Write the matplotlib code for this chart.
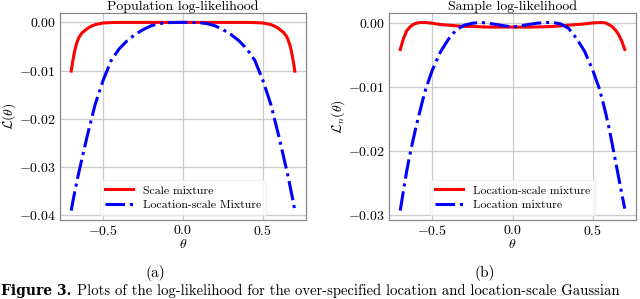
import matplotlib
matplotlib.use("Agg")
import matplotlib.pyplot as plt
import matplotlib.ticker as mticker

plt.rcParams['font.family'] = 'serif'
plt.rcParams['font.serif'] = ['cmr10', 'DejaVu Serif']
plt.rcParams['mathtext.fontset'] = 'cm'
plt.rcParams['axes.formatter.use_mathtext'] = True
plt.rcParams['axes.unicode_minus'] = True

# ---- Panel (a): population log-likelihood ----
theta_a = [-0.70, -0.69, -0.68, -0.67, -0.66, -0.65, -0.63, -0.60, -0.575, -0.55,
           -0.50, -0.45, -0.40, -0.35, -0.30, -0.25, -0.20, -0.15, -0.10, -0.05,
           0.00, 0.05, 0.10, 0.15, 0.20, 0.25, 0.30, 0.35, 0.40, 0.45,
           0.50, 0.55, 0.575, 0.60, 0.63, 0.65, 0.66, 0.67, 0.68, 0.69, 0.70]
scale_mix_a = [-0.0101, -0.0080, -0.0062, -0.0048, -0.0038, -0.0030, -0.0021, -0.0013, -0.0008, -0.00045,
               -0.00012, -0.00003, 0.0, 0.0, 0.0, 0.0, 0.0, 0.0, 0.0, 0.0,
               0.0, 0.0, 0.0, 0.0, 0.0, 0.0, 0.0, 0.0, 0.0, -0.00003,
               -0.00012, -0.00045, -0.0008, -0.0013, -0.0021, -0.0030, -0.0038, -0.0048, -0.0062, -0.0080, -0.0101]
locscale_mix_a = [-0.0390, -0.0372, -0.0355, -0.0339, -0.0323, -0.0308, -0.0279, -0.0236, -0.0203, -0.0170,
                  -0.0120, -0.0079, -0.0055, -0.0038, -0.0025, -0.0015, -0.0007, -0.00025, -0.00005, 0.0,
                  0.0, 0.0, -0.00005, -0.00025, -0.0007, -0.0015, -0.0025, -0.0038, -0.0055, -0.0079,
                  -0.0120, -0.0170, -0.0203, -0.0236, -0.0279, -0.0308, -0.0323, -0.0339, -0.0355, -0.0372, -0.0390]

# ---- Panel (b): sample log-likelihood ----
theta_b = [-0.70, -0.68, -0.66, -0.64, -0.62, -0.60, -0.58, -0.56, -0.54, -0.50,
           -0.45, -0.40, -0.35, -0.30, -0.25, -0.20, -0.15, -0.10, -0.05, 0.00,
           0.05, 0.10, 0.15, 0.20, 0.25, 0.30, 0.35, 0.40, 0.45, 0.50,
           0.54, 0.56, 0.58, 0.60, 0.62, 0.64, 0.66, 0.68, 0.70]
locscale_mix_b = [-0.0042, -0.0025, -0.0013, -0.0007, -0.0003, -0.0001, 0.0, 0.00003, 0.0, -0.0001,
                  -0.0003, -0.0004, -0.0005, -0.0006, -0.0006, -0.00065, -0.0007, -0.0007, -0.0007, -0.0007,
                  -0.0007, -0.0007, -0.00068, -0.00065, -0.0006, -0.0005, -0.0004, -0.0003, -0.0002, -0.00005,
                  0.0, 0.0, -0.00005, -0.0003, -0.0006, -0.0011, -0.0018, -0.0028, -0.0042]
loc_mix_b = [-0.0293, -0.0262, -0.0232, -0.0206, -0.0183, -0.0161, -0.0141, -0.0121, -0.0103, -0.0074,
             -0.0046, -0.0026, -0.0011, -0.0004, -0.0001, 0.00003, -0.0001, -0.0003, -0.0005, -0.0007,
             -0.0005, -0.0003, -0.0001, 0.0, 0.00003, -0.0002, -0.0009, -0.0025, -0.0045, -0.0074,
             -0.0102, -0.0120, -0.0140, -0.0162, -0.0187, -0.0213, -0.0239, -0.0265, -0.0290]

W, H = 640, 299
fig = plt.figure(figsize=(W / 100, H / 100), dpi=100)

ax1 = fig.add_axes([60 / W, (H - 220) / H, 246 / W, 207 / H])
ax2 = fig.add_axes([389 / W, (H - 220) / H, 247 / W, 207 / H])

lw = 2.2
ax1.plot(theta_a, scale_mix_a, color='red', lw=lw, label='Scale mixture')
ax1.plot(theta_a, locscale_mix_a, color='blue', lw=lw, ls='-.', label='Location-scale Mixture')
ax1.set_yticks([0.0, -0.01, -0.02, -0.03, -0.04])
ax1.set_ylabel(r'$\mathcal{L}(\theta)$', fontsize=10)
ax1.yaxis.set_label_coords(-0.17, 0.5)
ax1.set_title('Population log-likelihood', fontsize=10, pad=2)

ax2.plot(theta_b, locscale_mix_b, color='red', lw=lw, label='Location-scale mixture')
ax2.plot(theta_b, loc_mix_b, color='blue', lw=lw, ls='-.', label='Location mixture')
ax2.set_yticks([0.0, -0.01, -0.02, -0.03])
ax2.set_ylabel(r'$\mathcal{L}_n(\theta)$', fontsize=10)
ax2.yaxis.set_label_coords(-0.17, 0.5)
ax2.set_title('Sample log-likelihood', fontsize=10, pad=2)

for ax in (ax1, ax2):
    ax.set_xticks([-0.5, 0.0, 0.5])
    ax.set_xlabel(r'$\theta$', fontsize=10, labelpad=0)
    ax.grid(True, color='#cccccc', lw=0.9)
    ax.set_axisbelow(True)
    ax.tick_params(length=0, labelsize=10, pad=3)
    for s in ax.spines.values():
        s.set_color('#888888')
        s.set_linewidth(0.9)
    ax.legend(loc='lower center', fontsize=8.5, frameon=True, framealpha=0.8,
              edgecolor='#eeeeee', handlelength=2.4, borderpad=0.45,
              labelspacing=0.35, borderaxespad=0.4)
    ax.yaxis.set_major_formatter(mticker.FormatStrFormatter(r'$%.2f$'))
    ax.xaxis.set_major_formatter(mticker.FormatStrFormatter(r'$%.1f$'))

fig.text(155 / W, 1 - 273 / H, '(a)', ha='center', va='center', fontsize=11)
fig.text(485 / W, 1 - 273 / H, '(b)', ha='center', va='center', fontsize=11)
fig.text(1 / W, 1 - 295 / H, 'Figure 3.', ha='left', va='baseline', fontsize=10,
         fontweight='bold', family=['DejaVu Serif'])
fig.text(77 / W, 1 - 295 / H,
         'Plots of the log-likelihood for the over-specified location and location-scale Gaussian',
         ha='left', va='baseline', fontsize=10.6)

fig.savefig('out.png', dpi=100)
